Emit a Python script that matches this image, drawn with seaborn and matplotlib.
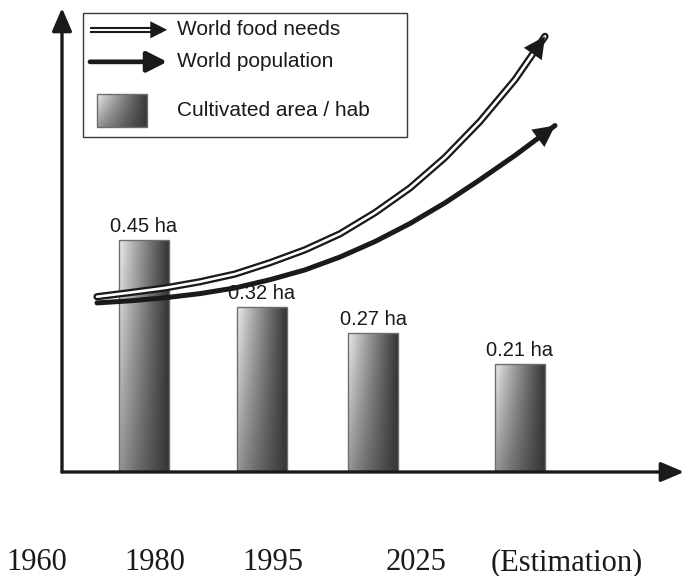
import numpy as np
import pandas as pd
import matplotlib.pyplot as plt
import matplotlib.patheffects as pe
from matplotlib.patches import Rectangle
import seaborn as sns

# cultivated area per inhabitant (ha)
area = [0.45, 0.32, 0.27, 0.21]
area_labels = [f"{v:.2f} ha" for v in area]

# curves (x in axis units, y on the ha scale)
food_x = [0.35, 0.68, 1.03, 1.38, 1.73, 2.08, 2.43, 2.78, 3.13, 3.48, 3.83, 4.18, 4.53, 4.83]
food_y = [0.340, 0.348, 0.357, 0.369, 0.384, 0.406, 0.431, 0.462, 0.503, 0.551, 0.610,
          0.680, 0.761, 0.845]
pop_x = [0.35, 0.68, 1.03, 1.38, 1.73, 2.08, 2.43, 2.78, 3.13, 3.48, 3.83, 4.18, 4.53, 4.93]
pop_y = [0.328, 0.332, 0.338, 0.346, 0.357, 0.373, 0.392, 0.417, 0.447, 0.482, 0.522,
         0.567, 0.614, 0.672]

year_labels = ["1960", "1980", "1995", "2025", "(Estimation)"]
legend_labels = ["World food needs", "World population", "Cultivated area / hab"]

# layout (bars are not evenly spaced in the original)
bar_pos = [0.82, 2.00, 3.11, 4.58]
bar_width = 0.5
year_px = [37, 155, 273, 416, 567]

sns.set_theme(style="white")
plt.rcParams["font.family"] = ["Liberation Sans", "DejaVu Sans"]
ink = "#1a1a1a"

fig = plt.figure(figsize=(6.84, 5.76), dpi=100)
ax = fig.add_axes([62 / 684, 104 / 576, 622 / 684, 464 / 576])

df = pd.DataFrame({"pos": bar_pos, "area": area})
gap = min(np.diff(bar_pos))
sns.barplot(data=df, x="pos", y="area", native_scale=True, width=bar_width / gap,
            errorbar=None, color="#888888", edgecolor="#6e6e6e", linewidth=1.0,
            ax=ax, zorder=2)

# gradient fill, light top-left to dark right
u = np.linspace(0, 1, 120)[None, :]
v = np.linspace(0, 1, 120)[:, None]
grad = np.clip(0.93 - 0.72 * u ** 0.9 - 0.33 * v * (1 - u), 0.1, 1)

for p in ax.patches:
    x0, y0, w, h = p.get_x(), p.get_y(), p.get_width(), p.get_height()
    p.set_facecolor("none")
    im = ax.imshow(grad, extent=(x0, x0 + w, y0, y0 + h), aspect="auto", cmap="gray",
                   vmin=0, vmax=1, interpolation="bicubic", zorder=1.9)
    im.set_clip_path(p)

ax.bar_label(ax.containers[0], labels=area_labels, padding=3, fontsize=14.5, color=ink)

# curves
sns.lineplot(x=food_x, y=food_y, sort=False, color="white", lw=1.9, ax=ax, zorder=5,
             path_effects=[pe.Stroke(linewidth=5.2, foreground=ink), pe.Normal()])
sns.lineplot(x=pop_x, y=pop_y, sort=False, color=ink, lw=3.6, ax=ax, zorder=5)

head = "-|>,head_length=0.55,head_width=0.28"
for xs, ys in [(food_x, food_y), (pop_x, pop_y)]:
    ax.annotate("", xy=(xs[-1], ys[-1]), xytext=(xs[-2], ys[-2]),
                arrowprops=dict(arrowstyle=head, color=ink, lw=0, mutation_scale=28,
                                shrinkA=0, shrinkB=0), zorder=6)

# axes with arrow heads
for end in [(0, 1), (1, 0)]:
    ax.annotate("", xy=end, xytext=(0, 0), xycoords="axes fraction",
                arrowprops=dict(arrowstyle="-|>,head_length=0.7,head_width=0.3", color=ink,
                                lw=2.4, mutation_scale=20, shrinkA=0, shrinkB=0),
                annotation_clip=False)
sns.despine(ax=ax, left=True, bottom=True)
ax.set_xticks([])
ax.set_yticks([])
ax.set_xlabel("")
ax.set_ylabel("")

# legend box drawn by hand to keep the arrow glyphs
ax.add_patch(Rectangle((0.034, 0.722), 0.521, 0.267, transform=ax.transAxes,
                       facecolor="white", edgecolor="#3a3a3a", lw=1.0, zorder=7))
ly = [0.953, 0.884, 0.780]
ax.plot([0.045, 0.16], [ly[0], ly[0]], transform=ax.transAxes, color="white", lw=1.4,
        zorder=8, solid_capstyle="butt",
        path_effects=[pe.Stroke(linewidth=4.4, foreground=ink), pe.Normal()])
ax.annotate("", xy=(0.169, ly[0]), xytext=(0.14, ly[0]), xycoords="axes fraction",
            arrowprops=dict(arrowstyle=head, color=ink, lw=0, mutation_scale=22,
                            shrinkA=0, shrinkB=0), zorder=9)
ax.annotate("", xy=(0.169, ly[1]), xytext=(0.045, ly[1]), xycoords="axes fraction",
            arrowprops=dict(arrowstyle=head, color=ink, lw=3.4, mutation_scale=22,
                            shrinkA=0, shrinkB=0), zorder=9)
ax.imshow(grad, extent=(0.056, 0.137, 0.744, 0.815), transform=ax.transAxes,
          aspect="auto", cmap="gray", vmin=0, vmax=1, interpolation="bicubic", zorder=8)
ax.add_patch(Rectangle((0.056, 0.744), 0.081, 0.071, transform=ax.transAxes,
                       facecolor="none", edgecolor="#6e6e6e", lw=1.0, zorder=9))
for y, lab in zip(ly, legend_labels):
    ax.text(0.185, y, lab, transform=ax.transAxes, fontsize=15, color=ink,
            va="center", ha="left", zorder=9)

ax.set_xlim(0, 6.22)
ax.set_ylim(0, 0.9)

# year captions under the chart
for xp, lab in zip(year_px, year_labels):
    fig.text(xp / 684, 6 / 576, lab, ha="center", va="baseline", fontsize=22,
             family="Liberation Serif", color=ink)

fig.savefig("out.png", dpi=100)
